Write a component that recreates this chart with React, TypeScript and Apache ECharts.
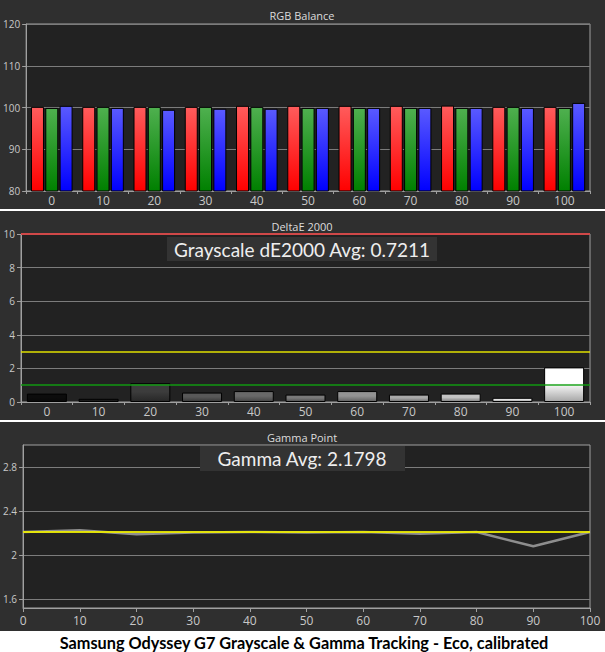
import React, { useEffect, useRef } from 'react';
import * as echarts from 'echarts';

const categories = ['0', '10', '20', '30', '40', '50', '60', '70', '80', '90', '100'];
const redValues = [100.15, 100.15, 100.15, 100.15, 100.4, 100.4, 100.4, 100.4, 100.45, 100.15, 100.15];
const greenValues = [99.9, 100.15, 100.15, 100.15, 100.15, 99.9, 99.9, 99.9, 99.9, 100.15, 99.9];
const blueValues = [100.4, 99.9, 99.45, 99.7, 99.7, 99.9, 99.9, 99.9, 99.9, 99.9, 101.1];
const deltaE = [0.5, 0.19, 1.12, 0.56, 0.65, 0.44, 0.65, 0.44, 0.5, 0.25, 2.06];
const deltaRefs = [10, 3, 1];
const gammaX = [0, 10, 20, 30, 40, 50, 60, 70, 80, 90, 100];
const gammaMeasured = [2.21, 2.225, 2.19, 2.205, 2.21, 2.205, 2.21, 2.195, 2.21, 2.08, 2.21];
const gammaTarget = [2.21, 2.21, 2.21, 2.21, 2.21, 2.21, 2.21, 2.21, 2.21, 2.21, 2.21];
const gammaTicks = [1.6, 2.0, 2.4, 2.8];
const panelTitles = ['RGB Balance', 'DeltaE 2000', 'Gamma Point'];
const deltaAvgText = 'Grayscale dE2000 Avg: 0.7211';
const gammaAvgText = 'Gamma Avg: 2.1798';
const captionText = 'Samsung Odyssey G7 Grayscale & Gamma Tracking - Eco, calibrated';

const shades = ['#0c0c0c', '#1c1c1c', '#3c3c3c', '#585858', '#696969', '#7a7a7a', '#939393', '#a9a9a9', '#c4c4c4', '#e2e2e2', '#ffffff'];

function darken(hex: string, f: number) {
  const n = parseInt(hex.slice(1), 16);
  const r = Math.round(((n >> 16) & 255) * f);
  const g = Math.round(((n >> 8) & 255) * f);
  const b = Math.round((n & 255) * f);
  return `rgb(${r},${g},${b})`;
}

function grad(top: string, bottom: string, mid = 0) {
  return new echarts.graphic.LinearGradient(0, 0, 0, 1, [
    { offset: 0, color: top },
    { offset: mid, color: top },
    { offset: 1, color: bottom },
  ]);
}

const FONT = '"Open Sans", sans-serif';
const AXIS_COLOR = '#a0a0a0';
const SPLIT_COLOR = '#7c7c7c';
const LABEL_COLOR = '#c8c8c8';

export default function App() {
  const ref = useRef<HTMLDivElement>(null);
  useEffect(() => {
    if (!ref.current) return;
    const chart = echarts.init(ref.current, undefined, { renderer: 'svg' });

    const gridBase = { show: true, backgroundColor: '#222222', borderColor: AXIS_COLOR, borderWidth: 1 };
    const yBase = (gi: number) => ({
      type: 'value' as const,
      gridIndex: gi,
      axisLine: { show: true, lineStyle: { color: AXIS_COLOR } },
      axisTick: { show: true, length: 4, lineStyle: { color: AXIS_COLOR } },
      axisLabel: { color: LABEL_COLOR, fontSize: 10, fontFamily: FONT, margin: 6 },
      splitLine: { show: true, lineStyle: { color: SPLIT_COLOR, width: 1 } },
    });
    const xCat = (gi: number, margin: number) => ({
      type: 'category' as const,
      gridIndex: gi,
      data: categories,
      boundaryGap: true,
      axisLine: { show: true, lineStyle: { color: AXIS_COLOR } },
      axisTick: { show: true, length: 3, lineStyle: { color: AXIS_COLOR } },
      axisLabel: { color: LABEL_COLOR, fontSize: 12, fontFamily: FONT, margin },
      splitLine: { show: false },
    });

    const textEl = (text: string, x: number, y: number, font: string, fill: string, z = 100) => ({
      type: 'text',
      x,
      y,
      z,
      style: {
        text,
        font,
        fill,
        align: 'center',
        verticalAlign: 'middle',
        textAlign: 'center',
        textVerticalAlign: 'middle',
      },
    });

    const option: any = {
      animation: false,
      backgroundColor: '#2f2f2f',
      grid: [
        { ...gridBase, left: 26, right: 15, top: 24, height: 167 },
        { ...gridBase, left: 21, right: 15, top: 234, height: 168 },
        { ...gridBase, left: 23, right: 15, top: 445, height: 163 },
      ],
      xAxis: [
        xCat(0, 3),
        xCat(1, 3),
        {
          type: 'value',
          gridIndex: 2,
          min: 0,
          max: 100,
          interval: 10,
          axisLine: { show: true, lineStyle: { color: AXIS_COLOR } },
          axisTick: { show: true, length: 4, lineStyle: { color: AXIS_COLOR } },
          axisLabel: { color: LABEL_COLOR, fontSize: 12, fontFamily: FONT, margin: 6 },
          splitLine: { show: false },
        },
      ],
      yAxis: [
        { ...yBase(0), min: 80, max: 120, interval: 10 },
        { ...yBase(1), min: 0, max: 10, interval: 2 },
        {
          ...yBase(2),
          min: 1.52,
          max: 3.0,
          axisTick: { show: true, length: 4, lineStyle: { color: AXIS_COLOR }, customValues: gammaTicks },
          axisLabel: { color: LABEL_COLOR, fontSize: 10, fontFamily: FONT, margin: 6, customValues: gammaTicks },
        },
      ],
      series: [
        {
          type: 'bar',
          xAxisIndex: 0,
          yAxisIndex: 0,
          data: redValues,
          barWidth: 13,
          barGap: '10%',
          itemStyle: { color: grad('#ff5c5c', '#ff0000'), borderColor: '#000', borderWidth: 1 },
        },
        {
          type: 'bar',
          xAxisIndex: 0,
          yAxisIndex: 0,
          data: greenValues,
          barWidth: 13,
          barGap: '10%',
          itemStyle: { color: grad('#4fb04f', '#008000'), borderColor: '#000', borderWidth: 1 },
        },
        {
          type: 'bar',
          xAxisIndex: 0,
          yAxisIndex: 0,
          data: blueValues,
          barWidth: 13,
          barGap: '10%',
          itemStyle: { color: grad('#5a5aff', '#0000ff'), borderColor: '#000', borderWidth: 1 },
        },
        {
          type: 'bar',
          xAxisIndex: 1,
          yAxisIndex: 1,
          barWidth: 40,
          data: deltaE.map((v, i) => ({
            value: v,
            itemStyle: { color: grad(shades[i], darken(shades[i], 0.65), 0.45), borderColor: '#000', borderWidth: 1 },
          })),
          markLine: {
            silent: true,
            symbol: 'none',
            label: { show: false },
            data: [
              { yAxis: deltaRefs[0], lineStyle: { color: '#d04848', width: 2, type: 'solid' } },
              { yAxis: deltaRefs[1], lineStyle: { color: '#e0e000', width: 1.5, type: 'solid' } },
              { yAxis: deltaRefs[2], lineStyle: { color: '#10a010', width: 2, type: 'solid', opacity: 0.7 } },
            ],
          },
        },
        {
          type: 'line',
          xAxisIndex: 2,
          yAxisIndex: 2,
          data: gammaX.map((x, i) => [x, gammaMeasured[i]]),
          symbol: 'none',
          lineStyle: { color: '#8e8e8e', width: 2.5 },
        },
        {
          type: 'line',
          xAxisIndex: 2,
          yAxisIndex: 2,
          data: gammaX.map((x, i) => [x, gammaTarget[i]]),
          symbol: 'none',
          lineStyle: { color: '#eeee00', width: 2, opacity: 0.9 },
        },
      ],
      graphic: [
        { type: 'rect', shape: { x: 0, y: 209, width: 605, height: 2 }, style: { fill: '#ffffff' } },
        { type: 'rect', shape: { x: 0, y: 420, width: 605, height: 2 }, style: { fill: '#ffffff' } },
        { type: 'rect', shape: { x: 0, y: 631, width: 605, height: 21 }, style: { fill: '#ffffff' } },
        textEl(panelTitles[0], 302, 15, `11px ${FONT}`, '#dcdcdc'),
        textEl(panelTitles[1], 302, 226, `11px ${FONT}`, '#dcdcdc'),
        textEl(panelTitles[2], 302, 437, `11px ${FONT}`, '#dcdcdc'),
        { type: 'rect', z: 99, shape: { x: 167, y: 237, width: 270, height: 24 }, style: { fill: '#333333' } },
        textEl(deltaAvgText, 302, 249, `19px Lato, sans-serif`, '#eeeeee'),
        { type: 'rect', z: 99, shape: { x: 200, y: 446, width: 205, height: 25 }, style: { fill: '#333333' } },
        textEl(gammaAvgText, 302, 458, `19px Lato, sans-serif`, '#eeeeee'),
        textEl(captionText, 304, 642, `bold 16.3px Lato, sans-serif`, '#000000'),
      ],
    };
    chart.setOption(option);
    return () => chart.dispose();
  }, []);
  return <div ref={ref} style={{ position: 'absolute', left: 0, top: 0, width: 605, height: 652 }} />;
}
